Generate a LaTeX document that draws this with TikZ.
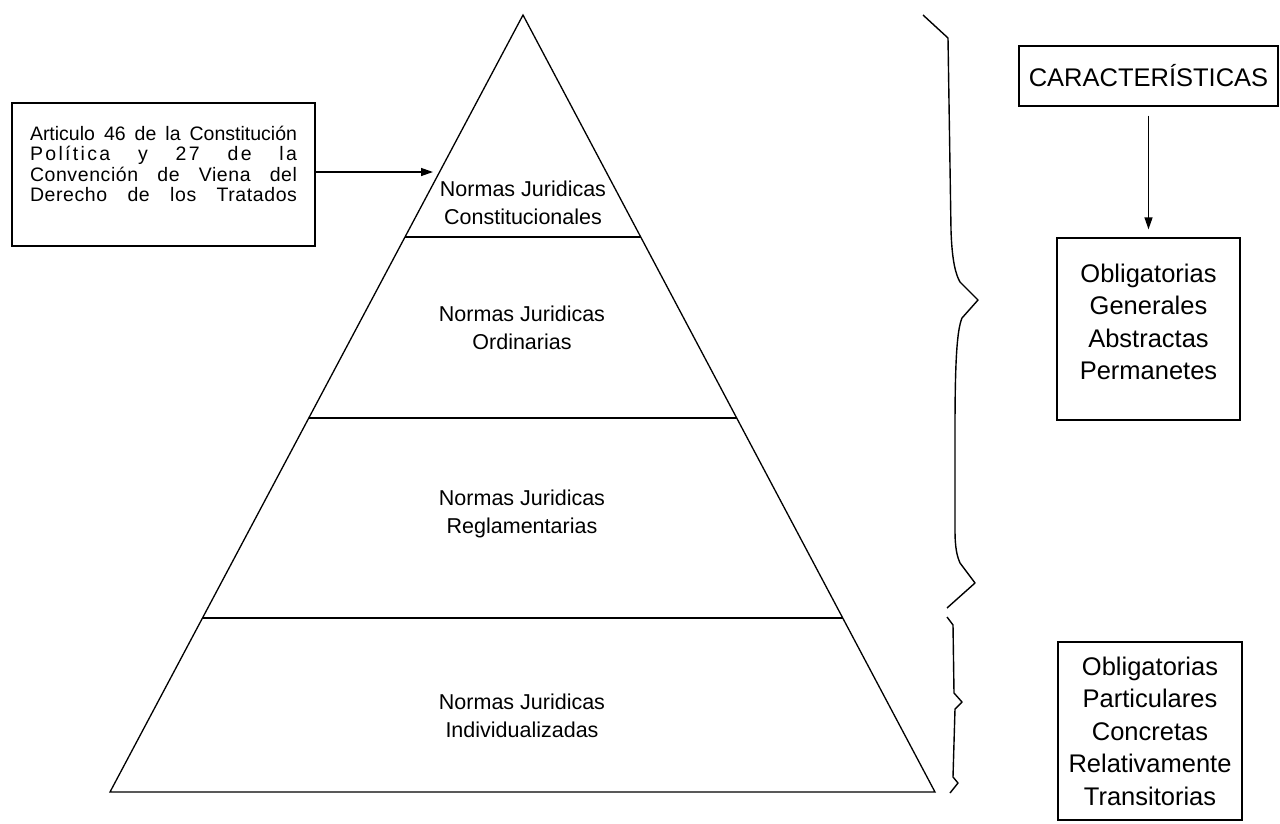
\documentclass[tikz,border=0pt]{standalone}
\usepackage{fontspec}
\setmainfont{Liberation Sans}
\newfontfamily\spacedfont[LetterSpace=12]{Liberation Sans}
\newfontfamily\slightfont[LetterSpace=3]{Liberation Sans}
\usetikzlibrary{arrows.meta}
\begin{document}
\begin{tikzpicture}[x=1pt,y=-1pt, line width=1.3pt,
  lbl/.style={font=\fontsize{21.5}{28}\selectfont, align=center, inner sep=0pt},
  rtxt/.style={font=\fontsize{25.5}{32.5}\selectfont, align=center, inner sep=0pt},
  boxed/.style={draw, inner sep=0pt},
  arr/.style={-{Triangle[length=12pt,width=8pt]}},
  brace/.style={line width=1.4pt, line join=round}]
\useasboundingbox (0,0) rectangle (1280,823);

% pyramid
\coordinate (apex) at (523,15);
\coordinate (bl) at (110,792);
\coordinate (br) at (935,792);
\draw[line join=miter] (apex) -- (bl) -- (br) -- cycle;
\coordinate (d1l) at (405,237);   \coordinate (d1r) at (640.7,237);
\coordinate (d2l) at (308.8,418); \coordinate (d2r) at (736.7,418);
\coordinate (d3l) at (202.5,618); \coordinate (d3r) at (842.7,618);
\draw (d1l) -- (d1r);
\draw (d2l) -- (d2r);
\draw (d3l) -- (d3r);

\node[lbl] (constit) at (523,203) {Normas Juridicas\\Constitucionales};
\node[lbl] (ordin) at (522,328) {Normas Juridicas\\Ordinarias};
\node[lbl] (regla) at (522,514) {Normas Juridicas\\Reglamentarias};
\node[lbl] (indiv) at (522,716) {Normas Juridicas\\Individualizadas};

% left box
\node[boxed, minimum width=303pt, minimum height=143pt] (artbox) at (163.5,174.5) {};
\node[inner sep=0pt, font=\fontsize{19.5}{20.5}\selectfont, align=left] (arttxt) at (163.5,164) {%
\makebox[267pt][s]{Articulo 46 de la Constitución}\\
\makebox[267pt][s]{\spacedfont Política y 27 de la}\\
\makebox[267pt][s]{\slightfont Convención de Viena del}\\
\makebox[267pt][s]{\slightfont Derecho de los Tratados}};
\coordinate (tip) at (433,172);
\draw[arr] (artbox.east |- tip) -- (tip);

% right side
\node[boxed, rtxt, minimum width=259pt, minimum height=60pt] (car) at (1148.5,76) {CARACTERÍSTICAS};
\node[boxed, minimum width=183pt, minimum height=182pt] (gen) at (1148.5,329) {};
\node[rtxt] (gentxt) at (1148.5,322) {Obligatorias\\Generales\\Abstractas\\Permanetes};
\draw[arr, shorten <=9pt, shorten >=8pt] (car.south) -- (gen.north);
\node[boxed, rtxt, minimum width=184pt, minimum height=178pt] (part) at (1150,731) {Obligatorias\\Particulares\\Concretas\\Relativamente\\Transitorias};

% braces
\draw[brace] (923,15) -- (948,38) -- (951,230)
  .. controls (952,262) and (956,275) .. (960,282) -- (978,300) -- (962,318)
  .. controls (957,330) and (955,360) .. (955,430) -- (955,530)
  .. controls (955,548) and (957,556) .. (960,563) -- (975,583) -- (947,608);
\draw[brace] (947,617) -- (953,625) -- (954,693) -- (962,702) -- (955,709)
  -- (953,777) -- (958,783) -- (950,793);
\end{tikzpicture}
\end{document}
